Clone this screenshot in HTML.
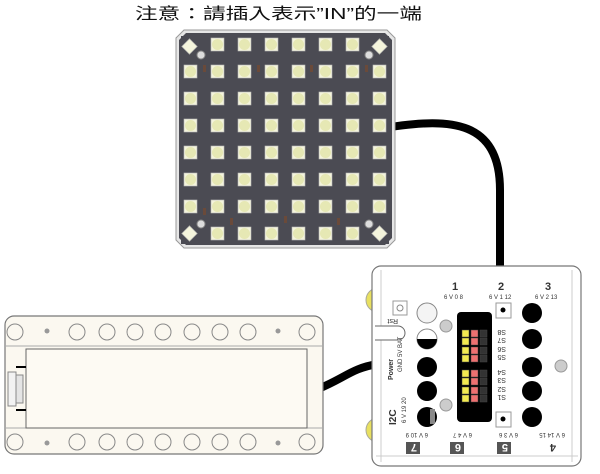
<!DOCTYPE html>
<html><head><meta charset="utf-8"><style>
html,body{margin:0;padding:0;background:#fff;width:600px;height:474px;overflow:hidden}
svg{display:block}
text{font-family:"Liberation Sans","Noto Sans CJK TC",sans-serif}
</style></head><body>
<svg width="600" height="474" viewBox="0 0 600 474" xmlns="http://www.w3.org/2000/svg">
<defs>
<pattern id="led" x="177" y="31" width="27" height="27" patternUnits="userSpaceOnUse">
<rect x="7" y="7" width="13" height="13" fill="#f4f4dc" stroke="#bbb" stroke-width="0.6"/>
<circle cx="13.5" cy="13.5" r="5.5" fill="#e6e8b4"/>
</pattern>
</defs>
<text x="135" y="19" font-size="16" textLength="287" lengthAdjust="spacingAndGlyphs" fill="#111">注意：請插入表示”IN”的一端</text>

<path d="M390,127 C450,118 500,120 500,190 L500,270" fill="none" stroke="#000" stroke-width="8"/>
<path d="M318,389 C345,378 352,368 378,364" fill="none" stroke="#000" stroke-width="8"/>

<path d="M184,30 H387 L395,38 V240 L387,248 H184 L176,240 V38 Z" fill="#e6e6e6" stroke="#999" stroke-width="1"/>
<path d="M186,33 H385 L392,40 V238 L385,245 H186 L179,238 V40 Z" fill="#4b4b53"/>
<rect x="179" y="33" width="213" height="212" fill="url(#led)"/>
<rect x="181" y="36" width="20" height="20" fill="#4b4b53"/>
<rect x="369" y="36" width="20" height="20" fill="#4b4b53"/>
<rect x="181" y="224" width="20" height="20" fill="#4b4b53"/>
<rect x="369" y="224" width="20" height="20" fill="#4b4b53"/>
<g fill="#f4f4dc" stroke="#aaa" stroke-width="0.6">
<rect x="184" y="41" width="11" height="11" transform="rotate(45 189.5 46.5)"/>
<rect x="374" y="41" width="11" height="11" transform="rotate(45 379.5 46.5)"/>
<rect x="184" y="228" width="11" height="11" transform="rotate(45 189.5 233.5)"/>
<rect x="374" y="228" width="11" height="11" transform="rotate(45 379.5 233.5)"/>
</g>
<g fill="#ddd" stroke="#888" stroke-width="1">
<circle cx="201" cy="55" r="4"/><circle cx="369" cy="55" r="4"/>
<circle cx="201" cy="224" r="4"/><circle cx="369" cy="224" r="4"/>
</g>
<g fill="#6a4a3a">
<rect x="203" y="65" width="3" height="7"/><rect x="257" y="65" width="3" height="7"/><rect x="310" y="65" width="3" height="7"/><rect x="365" y="65" width="3" height="7"/>
<rect x="203" y="208" width="3" height="7"/><rect x="230" y="218" width="3" height="7"/><rect x="284" y="216" width="3" height="7"/><rect x="337" y="218" width="3" height="7"/>
</g>

<rect x="5" y="316" width="318" height="138" rx="9" fill="#fbf8f0" stroke="#777" stroke-width="1.2"/>
<line x1="5" y1="346" x2="323" y2="346" stroke="#aaa"/>
<line x1="5" y1="428" x2="323" y2="428" stroke="#aaa"/>
<rect x="26" y="349" width="281" height="79" fill="#fdfaf3" stroke="#666" stroke-width="1"/>
<rect x="8" y="372" width="8" height="34" fill="#f2f2f2" stroke="#888"/>
<rect x="16" y="375" width="7" height="28" fill="#e4e4e4" stroke="#888"/>
<rect x="16" y="366" width="10" height="2" fill="#000"/><rect x="16" y="409" width="10" height="2" fill="#000"/>
<g fill="none" stroke="#888" stroke-width="1">
<circle cx="15" cy="332" r="8"/><circle cx="77" cy="332" r="8"/><circle cx="107" cy="332" r="8"/><circle cx="135" cy="332" r="8"/><circle cx="163" cy="332" r="8"/><circle cx="192" cy="332" r="8"/><circle cx="220" cy="332" r="8"/><circle cx="248" cy="332" r="8"/><circle cx="307" cy="332" r="8"/>
<circle cx="15" cy="442" r="8"/><circle cx="77" cy="442" r="8"/><circle cx="107" cy="442" r="8"/><circle cx="135" cy="442" r="8"/><circle cx="163" cy="442" r="8"/><circle cx="192" cy="442" r="8"/><circle cx="220" cy="442" r="8"/><circle cx="248" cy="442" r="8"/><circle cx="307" cy="442" r="8"/>
</g>
<g fill="#999"><circle cx="47" cy="331" r="2.5"/><circle cx="278" cy="331" r="2.5"/><circle cx="47" cy="443" r="2.5"/><circle cx="278" cy="443" r="2.5"/></g>

<circle cx="378" cy="300" r="12" fill="#e8e060" stroke="#aa9"/>
<circle cx="378" cy="430" r="12" fill="#e8e060" stroke="#aa9"/>
<rect x="372" y="266" width="209" height="200" rx="9" fill="#fff" stroke="#777" stroke-width="1.2"/>
<line x1="381" y1="270" x2="381" y2="462" stroke="#ccc"/><line x1="572" y1="270" x2="572" y2="462" stroke="#ccc"/>
<line x1="376" y1="456" x2="578" y2="456" stroke="#ccc"/>
<g font-size="11" font-weight="bold" fill="#333"><text x="452" y="290">1</text><text x="498" y="290">2</text><text x="545" y="290">3</text></g>
<g font-size="6" fill="#333"><text x="444" y="299">6 V 0 8</text><text x="489" y="299">6 V 1 12</text><text x="535" y="299">6 V 2 13</text></g>
<rect x="393" y="301" width="14" height="14" fill="#fff" stroke="#999"/><circle cx="400" cy="308" r="3" fill="none" stroke="#888"/>
<rect x="496" y="303" width="15" height="15" fill="#fff" stroke="#999"/><circle cx="503" cy="310" r="2.5" fill="#000"/>
<rect x="496" y="412" width="15" height="15" fill="#fff" stroke="#999"/><circle cx="503" cy="419" r="2.5" fill="#000"/>
<rect x="457" y="312" width="35" height="110" rx="4" fill="#000"/>
<g stroke="#444" stroke-width="0.5">
<g fill="#f2ea50"><rect x="462" y="330" width="7" height="7"/><rect x="462" y="338" width="7" height="7"/><rect x="462" y="347" width="7" height="7"/><rect x="462" y="355" width="7" height="7"/><rect x="462" y="370" width="7" height="7"/><rect x="462" y="378" width="7" height="7"/><rect x="462" y="387" width="7" height="7"/><rect x="462" y="395" width="7" height="7"/></g>
<g fill="#ee7070"><rect x="471" y="330" width="7" height="7"/><rect x="471" y="338" width="7" height="7"/><rect x="471" y="347" width="7" height="7"/><rect x="471" y="355" width="7" height="7"/><rect x="471" y="370" width="7" height="7"/><rect x="471" y="378" width="7" height="7"/><rect x="471" y="387" width="7" height="7"/><rect x="471" y="395" width="7" height="7"/></g>
<g fill="#333"><rect x="480" y="330" width="7" height="7"/><rect x="480" y="338" width="7" height="7"/><rect x="480" y="347" width="7" height="7"/><rect x="480" y="355" width="7" height="7"/><rect x="480" y="370" width="7" height="7"/><rect x="480" y="378" width="7" height="7"/><rect x="480" y="387" width="7" height="7"/><rect x="480" y="395" width="7" height="7"/></g>
</g>
<g font-size="7" fill="#333">
<text transform="translate(506,330) rotate(180)">S8</text>
<text transform="translate(506,338) rotate(180)">S7</text>
<text transform="translate(506,347) rotate(180)">S6</text>
<text transform="translate(506,355) rotate(180)">S5</text>
<text transform="translate(506,370) rotate(180)">S4</text>
<text transform="translate(506,378) rotate(180)">S3</text>
<text transform="translate(506,387) rotate(180)">S2</text>
<text transform="translate(506,395) rotate(180)">S1</text>
</g>
<g fill="#000">
<circle cx="532" cy="313" r="10"/><circle cx="532" cy="339" r="10"/><circle cx="532" cy="367" r="10"/><circle cx="532" cy="391" r="10"/><circle cx="532" cy="417" r="10"/>
<circle cx="427" cy="367" r="10"/><circle cx="427" cy="391" r="10"/><circle cx="427" cy="417" r="10"/>
</g>
<circle cx="427" cy="313" r="10" fill="#f4f4f4" stroke="#888"/>
<circle cx="427" cy="339" r="10" fill="#fff" stroke="#888"/>
<path d="M417,339 A10,10 0 0 0 437,339 Z" fill="#000"/>
<rect x="430" y="409" width="5" height="15" fill="#888"/>
<g fill="#ccc" stroke="#999"><circle cx="446" cy="326" r="6"/><circle cx="446" cy="405" r="6"/><circle cx="561" cy="366" r="6"/></g>
<path d="M375,326 H398 A7,7 0 0 1 398,340 H375" fill="#fff" stroke="#666"/>
<g font-size="7" fill="#333">
<text x="0" y="0" transform="translate(398,319) rotate(180)">Rst</text>
<text x="0" y="0" transform="translate(393,380) rotate(-90)" font-weight="bold">Power</text>
<text x="0" y="0" transform="translate(402,372) rotate(-90)" font-size="6">GND 5V BAT</text>
<text x="0" y="0" transform="translate(396,425) rotate(-90)" font-weight="bold" font-size="10">I2C</text>
<text x="0" y="0" transform="translate(406,423) rotate(-90)" font-size="6">6 V 19 20</text>
</g>
<g font-size="6" fill="#333">
<text transform="translate(428,433) rotate(180)">6 V 10 9</text>
<text transform="translate(472,433) rotate(180)">6 V 4 7</text>
<text transform="translate(518,433) rotate(180)">6 V 3 6</text>
<text transform="translate(565,433) rotate(180)">6 V 14 15</text>
</g>
<g fill="#555"><rect x="406" y="442" width="14" height="12"/><rect x="450" y="442" width="14" height="12"/><rect x="497" y="442" width="14" height="12"/></g>
<g font-size="11" font-weight="bold">
<text transform="translate(417,444) rotate(180)" fill="#fff">7</text>
<text transform="translate(461,444) rotate(180)" fill="#fff">6</text>
<text transform="translate(508,444) rotate(180)" fill="#fff">5</text>
<text transform="translate(556,444) rotate(180)" fill="#333">4</text>
</g>
</svg>
</body></html>
